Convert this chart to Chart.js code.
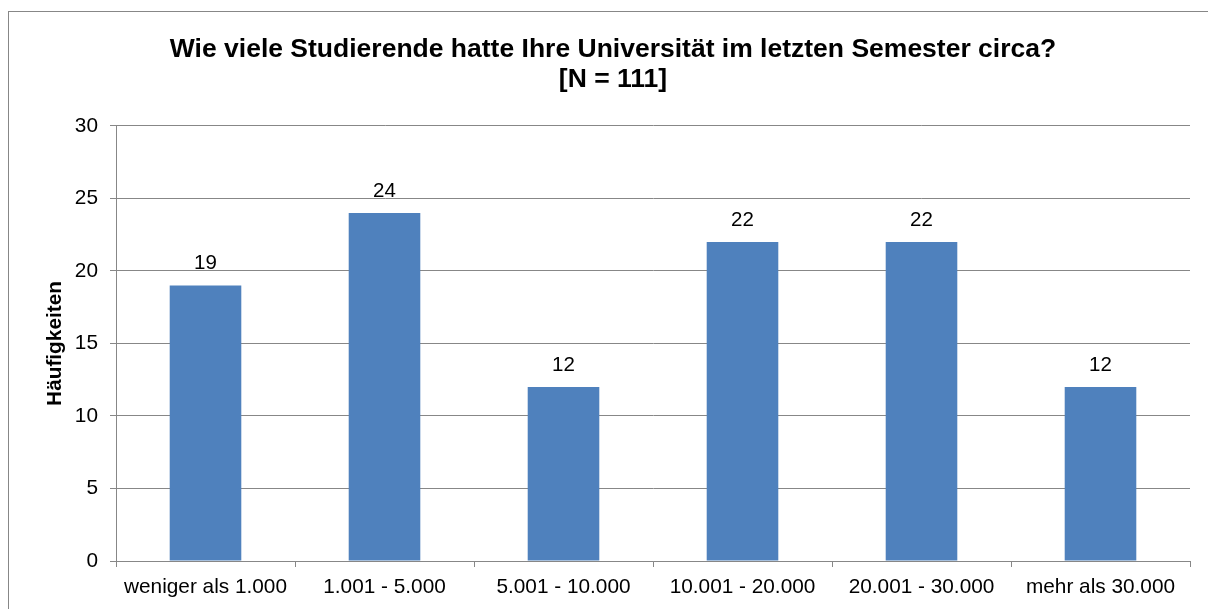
<!DOCTYPE html>
<html>
<head>
<meta charset="utf-8">
<script src="https://cdn.jsdelivr.net/npm/chart.js@4"></script>
<style>
  html, body { margin: 0; padding: 0; background: #fff; overflow: hidden; }
  #myChart { display: block; }
</style>
</head>
<body>
<canvas id="myChart" width="1228" height="609"></canvas>
<script>
const categories = ['weniger als 1.000', '1.001 - 5.000', '5.001 - 10.000', '10.001 - 20.000', '20.001 - 30.000', 'mehr als 30.000'];
const counts = [19, 24, 12, 22, 22, 12];
const yTicks = [0, 5, 10, 15, 20, 25, 30];
const titleLines = ['Wie viele Studierende hatte Ihre Universität im letzten Semester circa?', '[N = 111]'];
const yTitle = 'Häufigkeiten';

const gray = '#878787';
const font = 'Liberation Sans, Arial, sans-serif';

// frame around the chart
const framePlugin = {
  id: 'frame',
  beforeDraw(chart) {
    const ctx = chart.ctx;
    ctx.save();
    ctx.fillStyle = '#fff';
    ctx.fillRect(0, 0, chart.width, chart.height);
    ctx.strokeStyle = gray;
    ctx.lineWidth = 1;
    ctx.strokeRect(8.5, 11.5, 1211, 700);
    ctx.restore();
  }
};

// value labels above each bar
const valueLabels = {
  id: 'valueLabels',
  afterDatasetsDraw(chart) {
    const ctx = chart.ctx;
    const meta = chart.getDatasetMeta(0);
    ctx.save();
    ctx.font = '20.5px ' + font;
    ctx.fillStyle = '#000';
    ctx.textAlign = 'center';
    ctx.textBaseline = 'alphabetic';
    meta.data.forEach((bar, i) => {
      ctx.fillText(String(counts[i]), bar.x, bar.y - 16);
    });
    ctx.restore();
  }
};

function renderChart() {
  const ctx = document.getElementById('myChart');

  new Chart(ctx, {
    type: 'bar',
    data: {
      labels: categories,
      datasets: [
        {
          data: counts,
          backgroundColor: '#4F81BD',
          barPercentage: 0.4,
          categoryPercentage: 1,
        },
      ],
    },
    options: {
      responsive: false,
      animation: false,
      layout: { padding: { left: 36, right: 38, top: 0, bottom: 0 } },
      plugins: {
        legend: { display: false },
        tooltip: { enabled: false },
        title: {
          display: true,
          text: titleLines,
          color: '#000',
          font: { family: font, size: 26.5, weight: 'bold', lineHeight: 1.15 },
          padding: { top: 34, bottom: 31 },
        },
      },
      scales: {
        x: {
          afterFit(scale) { scale.height = 48; },
          grid: {
            offset: true,
            drawOnChartArea: false,
            drawTicks: true,
            tickLength: 6,
            color: gray,
          },
          border: { display: true, color: gray },
          ticks: {
            color: '#000',
            font: { family: font, size: 20.8 },
            padding: 8,
            maxRotation: 0,
            autoSkip: false,
          },
        },
        y: {
          min: 0,
          max: 30,
          afterFit(scale) { scale.width = 80; },
          afterBuildTicks(scale) { scale.ticks = yTicks.map(v => ({ value: v })); },
          grid: {
            color: gray,
            drawTicks: true,
            tickLength: 6,
          },
          border: { display: true, color: gray },
          ticks: {
            color: '#000',
            font: { family: font, size: 20.8 },
            padding: 12,
          },
          title: {
            display: true,
            text: yTitle,
            color: '#000',
            font: { family: font, size: 20.8, weight: 'bold' },
            padding: { top: 7, bottom: 0 },
          },
        },
      },
    },
    plugins: [framePlugin, valueLabels],
  });
}

renderChart();
</script>
</body>
</html>
